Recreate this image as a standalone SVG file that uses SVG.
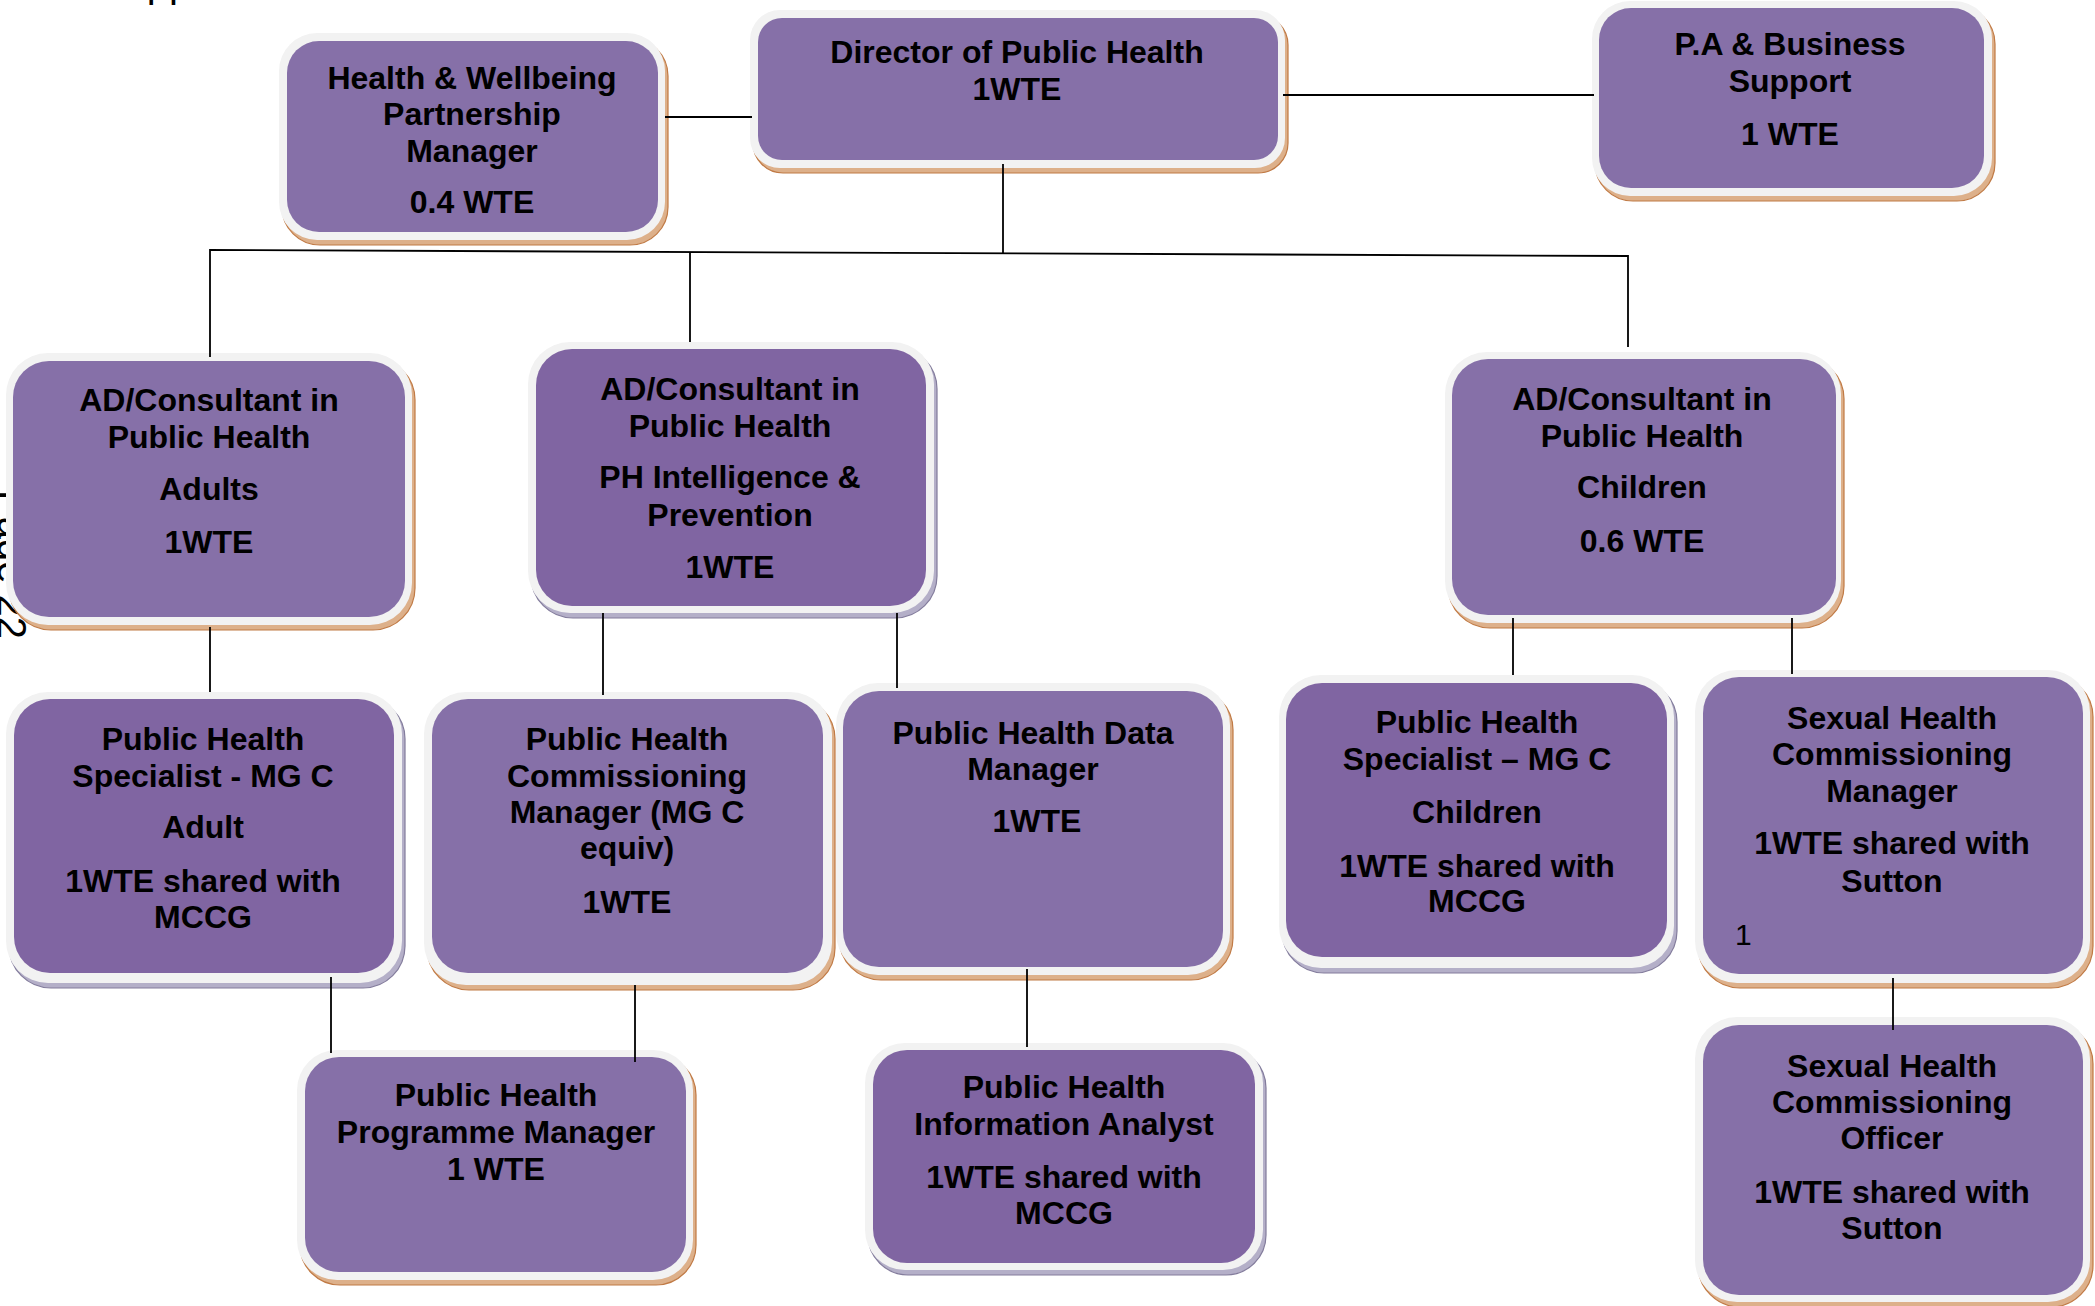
<svg xmlns="http://www.w3.org/2000/svg" width="2095" height="1306" viewBox="0 0 2095 1306">
<style>
.rim{fill:#F2F2F2}
.fill{fill:#8670A8}
.fill2{fill:#8065A2}
.shb{fill:#DDB08A;stroke:#C07A45;stroke-width:1.2}
.shg{fill:#B4AFC8;stroke:#837C9C;stroke-width:1.2}
.t{font-family:"Liberation Sans",Arial,sans-serif;font-weight:bold;font-size:32px;text-anchor:middle;fill:#000}
.r{font-family:"Liberation Sans",Arial,sans-serif;font-size:30px;fill:#000}
.pg{font-family:"Liberation Sans",Arial,sans-serif;font-size:40px;fill:#000}
.c{stroke:#000;stroke-width:1.8;fill:none}
</style>
<rect width="2095" height="1306" fill="#fff"/>
<text class="pg" x="120" y="-3">Appendix</text>
<text class="pg" transform="translate(-2,490) rotate(90)" x="0" y="0">Page 22</text>

<g id="n-hw">
<rect class="shb" x="282" y="38" width="386" height="207" rx="38"/>
<rect class="rim" x="279" y="33" width="386" height="207" rx="38"/>
<rect class="fill" x="287" y="41" width="371" height="191" rx="32"/>
<text class="t" x="472" y="89">Health &amp; Wellbeing</text>
<text class="t" x="472" y="125">Partnership</text>
<text class="t" x="472" y="162">Manager</text>
<text class="t" x="472" y="213">0.4 WTE</text>
</g>

<g id="n-dir">
<rect class="shb" x="753" y="15" width="535" height="158" rx="30"/>
<rect class="rim" x="750" y="10" width="535" height="158" rx="30"/>
<rect class="fill" x="758" y="18" width="520" height="142" rx="24"/>
<text class="t" x="1017" y="63">Director of Public Health</text>
<text class="t" x="1017" y="100">1WTE</text>
</g>

<g id="n-pa">
<rect class="shb" x="1595" y="6" width="400" height="195" rx="38"/>
<rect class="rim" x="1592" y="1" width="400" height="195" rx="38"/>
<rect class="fill" x="1599" y="8" width="385" height="180" rx="32"/>
<text class="t" x="1790" y="55">P.A &amp; Business</text>
<text class="t" x="1790" y="92">Support</text>
<text class="t" x="1790" y="145">1 WTE</text>
</g>

<g id="n-adults">
<rect class="shb" x="9" y="358" width="406" height="272" rx="42"/>
<rect class="rim" x="6" y="353" width="406" height="272" rx="42"/>
<rect class="fill" x="13" y="361" width="392" height="256" rx="36"/>
<text class="t" x="209" y="411">AD/Consultant in</text>
<text class="t" x="209" y="448">Public Health</text>
<text class="t" x="209" y="500">Adults</text>
<text class="t" x="209" y="553">1WTE</text>
</g>

<g id="n-intel">
<rect class="shg" x="531" y="347" width="406" height="271" rx="42"/>
<rect class="rim" x="528" y="342" width="406" height="271" rx="42"/>
<rect class="fill2" x="536" y="349" width="390" height="257" rx="36"/>
<text class="t" x="730" y="400">AD/Consultant in</text>
<text class="t" x="730" y="437">Public Health</text>
<text class="t" x="730" y="488">PH Intelligence &amp;</text>
<text class="t" x="730" y="526">Prevention</text>
<text class="t" x="730" y="578">1WTE</text>
</g>

<g id="n-children">
<rect class="shb" x="1448" y="357" width="396" height="271" rx="42"/>
<rect class="rim" x="1445" y="352" width="396" height="271" rx="42"/>
<rect class="fill" x="1452" y="359" width="384" height="256" rx="36"/>
<text class="t" x="1642" y="410">AD/Consultant in</text>
<text class="t" x="1642" y="447">Public Health</text>
<text class="t" x="1642" y="498">Children</text>
<text class="t" x="1642" y="552">0.6 WTE</text>
</g>

<g id="n-spec-adult">
<rect class="shg" x="9" y="697" width="396" height="291" rx="42"/>
<rect class="rim" x="6" y="692" width="396" height="291" rx="42"/>
<rect class="fill2" x="14" y="699" width="380" height="274" rx="36"/>
<text class="t" x="203" y="750">Public Health</text>
<text class="t" x="203" y="787">Specialist - MG C</text>
<text class="t" x="203" y="838">Adult</text>
<text class="t" x="203" y="892">1WTE shared with</text>
<text class="t" x="203" y="928">MCCG</text>
</g>

<g id="n-comm">
<rect class="shb" x="427" y="697" width="408" height="293" rx="42"/>
<rect class="rim" x="424" y="692" width="408" height="293" rx="42"/>
<rect class="fill" x="432" y="699" width="391" height="274" rx="36"/>
<text class="t" x="627" y="750">Public Health</text>
<text class="t" x="627" y="787">Commissioning</text>
<text class="t" x="627" y="823">Manager (MG C</text>
<text class="t" x="627" y="859">equiv)</text>
<text class="t" x="627" y="913">1WTE</text>
</g>

<g id="n-data">
<rect class="shb" x="839" y="688" width="394" height="292" rx="42"/>
<rect class="rim" x="836" y="683" width="394" height="292" rx="42"/>
<rect class="fill" x="843" y="691" width="380" height="276" rx="36"/>
<text class="t" x="1033" y="744">Public Health Data</text>
<text class="t" x="1033" y="780">Manager</text>
<text class="t" x="1037" y="832">1WTE</text>
</g>

<g id="n-spec-children">
<rect class="shg" x="1282" y="680" width="395" height="293" rx="42"/>
<rect class="rim" x="1279" y="675" width="395" height="293" rx="42"/>
<rect class="fill2" x="1286" y="683" width="381" height="274" rx="36"/>
<text class="t" x="1477" y="733">Public Health</text>
<text class="t" x="1477" y="770">Specialist – MG C</text>
<text class="t" x="1477" y="823">Children</text>
<text class="t" x="1477" y="877">1WTE shared with</text>
<text class="t" x="1477" y="912">MCCG</text>
</g>

<g id="n-sh-mgr">
<rect class="shb" x="1698" y="675" width="395" height="313" rx="42"/>
<rect class="rim" x="1695" y="670" width="395" height="313" rx="42"/>
<rect class="fill" x="1703" y="677" width="380" height="297" rx="36"/>
<text class="t" x="1892" y="729">Sexual Health</text>
<text class="t" x="1892" y="765">Commissioning</text>
<text class="t" x="1892" y="802">Manager</text>
<text class="t" x="1892" y="854">1WTE shared with</text>
<text class="t" x="1892" y="892">Sutton</text>
<text class="r" x="1735" y="945">1</text>
</g>

<g id="n-prog">
<rect class="shb" x="300" y="1055" width="396" height="230" rx="40"/>
<rect class="rim" x="297" y="1050" width="396" height="230" rx="40"/>
<rect class="fill" x="305" y="1057" width="381" height="215" rx="34"/>
<text class="t" x="496" y="1106">Public Health</text>
<text class="t" x="496" y="1143">Programme Manager</text>
<text class="t" x="496" y="1180">1 WTE</text>
</g>

<g id="n-analyst">
<rect class="shg" x="868" y="1048" width="398" height="227" rx="40"/>
<rect class="rim" x="865" y="1043" width="398" height="227" rx="40"/>
<rect class="fill2" x="873" y="1050" width="382" height="213" rx="34"/>
<text class="t" x="1064" y="1098">Public Health</text>
<text class="t" x="1064" y="1135">Information Analyst</text>
<text class="t" x="1064" y="1188">1WTE shared with</text>
<text class="t" x="1064" y="1224">MCCG</text>
</g>

<g id="n-sh-off">
<rect class="shb" x="1698" y="1022" width="395" height="285" rx="42"/>
<rect class="rim" x="1695" y="1017" width="395" height="285" rx="42"/>
<rect class="fill" x="1703" y="1025" width="380" height="270" rx="36"/>
<text class="t" x="1892" y="1077">Sexual Health</text>
<text class="t" x="1892" y="1113">Commissioning</text>
<text class="t" x="1892" y="1149">Officer</text>
<text class="t" x="1892" y="1203">1WTE shared with</text>
<text class="t" x="1892" y="1239">Sutton</text>
</g>

<g id="connectors">
<line class="c" x1="665" y1="117" x2="752" y2="117"/>
<line class="c" x1="1283" y1="95" x2="1594" y2="95"/>
<line class="c" x1="1003" y1="164" x2="1003" y2="253"/>
<path class="c" d="M210,357 V250 L1628,256 V347"/>
<line class="c" x1="690" y1="252" x2="690" y2="342"/>
<line class="c" x1="210" y1="627" x2="210" y2="692"/>
<line class="c" x1="603" y1="613" x2="603" y2="695"/>
<line class="c" x1="897" y1="613" x2="897" y2="688"/>
<line class="c" x1="1513" y1="618" x2="1513" y2="675"/>
<line class="c" x1="1792" y1="618" x2="1792" y2="674"/>
<line class="c" x1="331" y1="977" x2="331" y2="1053"/>
<line class="c" x1="635" y1="985" x2="635" y2="1062"/>
<line class="c" x1="1027" y1="969" x2="1027" y2="1047"/>
<line class="c" x1="1893" y1="978" x2="1893" y2="1030"/>
</g>
</svg>
